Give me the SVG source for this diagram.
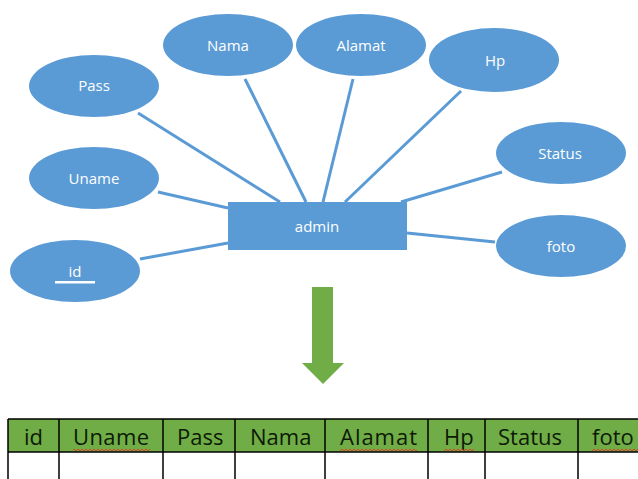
<svg xmlns="http://www.w3.org/2000/svg" width="638" height="479" viewBox="0 0 638 479">
  <style>
    .attr { fill: #5b9bd5; }
    .lbl { font-family: "Open Sans", "Liberation Sans", sans-serif; font-size: 15px; fill: #ffffff; text-anchor: middle; }
    .link { stroke: #5b9bd5; stroke-width: 3; fill: none; }
    .hdr { font-family: "Open Sans", "Liberation Sans", sans-serif; font-size: 22px; fill: #0d1a06; }
    .grid { stroke: #000000; stroke-width: 1.5; fill: none; }
    .squiggle { stroke: #d9412b; stroke-width: 1; fill: none; }
  </style>
  <defs>
    <pattern id="wave" width="4" height="4" patternUnits="userSpaceOnUse">
      <path d="M0 3 L2 1 L4 3" stroke="#d9412b" stroke-width="1" fill="none"/>
    </pattern>
  </defs>
  <rect width="638" height="479" fill="#ffffff"/>

  <!-- attribute connectors -->
  <g id="connectors">
    <line class="link" x1="138" y1="113" x2="280" y2="202"/>
    <line class="link" x1="245" y1="79" x2="306" y2="202"/>
    <line class="link" x1="353" y1="79" x2="323" y2="202"/>
    <line class="link" x1="461" y1="91" x2="345" y2="202"/>
    <line class="link" x1="502" y1="172" x2="401" y2="202"/>
    <line class="link" x1="407" y1="233" x2="495" y2="242"/>
    <line class="link" x1="158" y1="192" x2="228" y2="208"/>
    <line class="link" x1="140" y1="259" x2="228" y2="243"/>
  </g>

  <g id="admin">
    <rect x="228" y="202" width="179" height="48" fill="#5b9bd5"/>
    <text class="lbl" x="317" y="232">admin</text>
  </g>

  <g id="attr-nama">
    <ellipse class="attr" cx="228" cy="45" rx="65" ry="31"/>
    <text class="lbl" x="228" y="51">Nama</text>
  </g>
  <g id="attr-alamat">
    <ellipse class="attr" cx="361" cy="45" rx="65" ry="31"/>
    <text class="lbl" x="361" y="51">Alamat</text>
  </g>
  <g id="attr-hp">
    <ellipse class="attr" cx="494" cy="60" rx="65" ry="32"/>
    <text class="lbl" x="495" y="66">Hp</text>
  </g>
  <g id="attr-pass">
    <ellipse class="attr" cx="94" cy="86" rx="65" ry="31"/>
    <text class="lbl" x="94" y="91">Pass</text>
  </g>
  <g id="attr-uname">
    <ellipse class="attr" cx="94" cy="178" rx="65" ry="31"/>
    <text class="lbl" x="94" y="184">Uname</text>
  </g>
  <g id="attr-id">
    <ellipse class="attr" cx="75" cy="271" rx="65" ry="31"/>
    <text class="lbl" x="75" y="277">id</text>
    <rect x="55" y="281" width="40" height="2.5" fill="#ffffff"/>
  </g>
  <g id="attr-status">
    <ellipse class="attr" cx="561" cy="153" rx="65" ry="31"/>
    <text class="lbl" x="560" y="159">Status</text>
  </g>
  <g id="attr-foto">
    <ellipse class="attr" cx="561" cy="246" rx="65" ry="31"/>
    <text class="lbl" x="561" y="252">foto</text>
  </g>

  <!-- transformation arrow -->
  <g id="arrow">
    <polygon points="312,287 333,287 333,363 344,363 323,384 302,363 312,363" fill="#70ad47"/>
  </g>

  <!-- resulting table -->
  <g id="table">
    <rect x="8" y="419" width="640" height="33" fill="#70ad47"/>
    <path class="grid" d="M8 419 H648 M8 452 H648 M8 419 V479 M59 419 V479 M163 419 V479 M235 419 V479 M325 419 V479 M428 419 V479 M485 419 V479 M578 419 V479"/>
    <text class="hdr" x="24" y="445">id</text>
    <text class="hdr" x="73" y="445" textLength="76">Uname</text>
    <text class="hdr" x="177" y="445">Pass</text>
    <text class="hdr" x="250" y="445">Nama</text>
    <text class="hdr" x="340" y="445" textLength="77">Alamat</text>
    <text class="hdr" x="444" y="445">Hp</text>
    <text class="hdr" x="498" y="445">Status</text>
    <text class="hdr" x="592" y="445">foto</text>
    <rect x="73" y="448" width="77" height="4" fill="url(#wave)"/>
    <rect x="340" y="448" width="77" height="4" fill="url(#wave)"/>
    <rect x="444" y="448" width="30" height="4" fill="url(#wave)"/>
    <rect x="592" y="448" width="46" height="4" fill="url(#wave)"/>
  </g>
</svg>
